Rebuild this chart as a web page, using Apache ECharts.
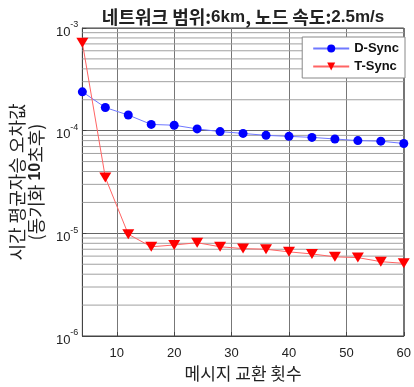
<!DOCTYPE html>
<html>
<head>
<meta charset="utf-8">
<script src="https://cdn.jsdelivr.net/npm/echarts@6/dist/echarts.min.js"></script>
<style>
  html, body { margin: 0; padding: 0; background: #fff; }
  #chart { width: 414px; height: 387px; }
</style>
</head>
<body>
<div id="chart"></div>
<script>
const msgCounts = [4, 8, 12, 16, 20, 24, 28, 32, 36, 40, 44, 48, 52, 56, 60]
const dSync = [2.39e-4, 1.68e-4, 1.42e-4, 1.15e-4, 1.13e-4, 1.04e-4, 9.8e-5, 9.4e-5, 9.0e-5, 8.8e-5, 8.6e-5, 8.3e-5, 8.0e-5, 7.9e-5, 7.5e-5]
const tSync = [7.2e-4, 3.5e-5, 9.8e-6, 7.4e-6, 7.7e-6, 8.1e-6, 7.4e-6, 7.1e-6, 7.0e-6, 6.6e-6, 6.3e-6, 5.9e-6, 5.8e-6, 5.3e-6, 5.1e-6]
const xTicks = [10, 20, 30, 40, 50, 60]
const decades = [1e-6, 1e-5, 1e-4]
const minorSteps = [2, 3, 4, 5, 6, 7, 8, 9]

const KR = '"Noto Sans CJK KR", sans-serif'

// minor log grid: one broken line series, segment per 2..9 x decade
const minorGrid = []
decades.forEach(d => minorSteps.forEach(k => {
  minorGrid.push([4, k * d], [60, k * d], [60, '-'])
}))

const chart = echarts.init(document.getElementById('chart'), null, { renderer: 'canvas' })

chart.setOption({
  animation: false,
  backgroundColor: '#fff',
  title: {
    text: '{n|네트워크 범위:}{b|6km}{n|, 노드 속도:}{b|2.5m/s}',
    left: 238, top: 3, textAlign: 'center',
    textStyle: {
      rich: {
        n: { fontFamily: KR, fontSize: 18, color: '#222' },
        b: { fontFamily: 'Liberation Sans', fontSize: 17, fontWeight: 'bold', color: '#222' },
      },
    },
  },
  legend: {
    orient: 'vertical',
    right: 9, top: 37,
    backgroundColor: '#fff',
    borderColor: '#888', borderWidth: 1,
    padding: [5, 6, 5, 10],
    itemGap: 5, itemWidth: 36, itemHeight: 10,
    textStyle: { fontFamily: 'Liberation Sans', fontWeight: 'bold', fontSize: 13, color: '#111' },
    data: ['D-Sync', 'T-Sync'],
  },
  grid: {
    left: 70, right: 5, top: 28, bottom: 44,
    show: true, borderColor: '#444', borderWidth: 1, backgroundColor: '#fff',
  },
  xAxis: {
    type: 'value', min: 4, max: 60,
    name: '메시지 교환 횟수', nameLocation: 'middle', nameGap: 29,
    nameTextStyle: { fontFamily: KR, fontSize: 17, color: '#222' },
    axisLine: { lineStyle: { color: '#444' } },
    axisTick: { inside: true, length: 4, customValues: xTicks, lineStyle: { color: '#444' } },
    axisLabel: { customValues: xTicks, fontFamily: 'Liberation Sans', fontSize: 13, color: '#222', margin: 11 },
    splitLine: { show: true, lineStyle: { color: '#777', width: 1 } },
  },
  yAxis: {
    type: 'log', logBase: 10, min: 1e-6, max: 1e-3,
    name: '{n|시간 평균자승 오차값}\n{n|(동기화 }{b|10}{n|초후)}',
    nameLocation: 'middle', nameRotate: 90, nameGap: 36,
    nameTextStyle: {
      rich: {
        n: { fontFamily: KR, fontSize: 18, color: '#222', lineHeight: 19 },
        b: { fontFamily: 'Liberation Sans', fontSize: 16, fontWeight: 'bold', color: '#222', lineHeight: 19 },
      },
    },
    axisLine: { show: true, lineStyle: { color: '#444' } },
    axisTick: { inside: true, length: 4, lineStyle: { color: '#444' } },
    axisLabel: {
      margin: 4,
      formatter: v => '{b|10}{s|' + Math.round(Math.log10(v)) + '}',
      rich: {
        b: { fontFamily: 'Liberation Sans', fontSize: 13, color: '#222', padding: [8, 0, 0, 0] },
        s: { fontFamily: 'Liberation Sans', fontSize: 9, color: '#222', padding: [0, 0, 6, 0] },
      },
    },
    splitLine: { show: true, lineStyle: { color: '#666', width: 1 } },
  },
  series: [
    {
      name: 'minor-grid', type: 'line',
      data: minorGrid,
      symbol: 'none', silent: true, connectNulls: false,
      lineStyle: { color: '#a0a0a0', width: 1 },
      z: 1,
    },
    {
      name: 'D-Sync', type: 'line',
      data: msgCounts.map((x, i) => [x, dSync[i]]),
      symbol: 'circle', symbolSize: 9,
      lineStyle: { color: '#6f78ff', width: 1 },
      itemStyle: { color: '#0000ff' },
      z: 3,
    },
    {
      name: 'T-Sync', type: 'line',
      data: msgCounts.map((x, i) => [x, tSync[i]]),
      symbol: 'triangle', symbolRotate: 180, symbolSize: [12, 10],
      lineStyle: { color: '#ff6464', width: 1 },
      itemStyle: { color: '#ff0000' },
      z: 3,
    },
  ],
})
</script>
</body>
</html>
